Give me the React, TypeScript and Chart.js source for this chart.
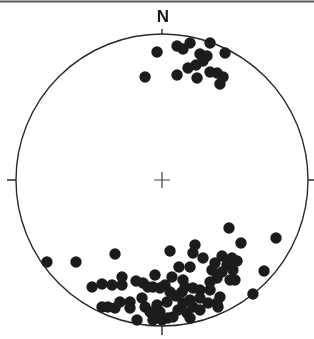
import React, { useEffect, useRef } from "react";
import { Chart, registerables } from "chart.js";

Chart.register(...registerables);

// Normalised stereonet coordinates (unit circle = primitive)
const northX = [-0.034, 0.103, 0.144, 0.192, 0.329, 0.432, 0.26, 0.308, 0.281, 0.233, 0.178, -0.116, 0.103, 0.24, 0.329, 0.377, 0.418, 0.397];
const northY = [0.877, 0.918, 0.897, 0.938, 0.938, 0.87, 0.863, 0.849, 0.815, 0.788, 0.767, 0.705, 0.719, 0.699, 0.74, 0.733, 0.705, 0.658];

const southX = [
  -0.788, -0.589, -0.322, 0.055, 0.226, 0.212, 0.281, 0.459, 0.541, 0.781, 0.699, 0.623,
  -0.479, -0.411, -0.342, -0.274, -0.274, -0.178, -0.13, -0.096, -0.048, -0.014, 0.021,
  -0.411, -0.37, -0.322, -0.288, -0.219, -0.219, -0.137, -0.116, -0.082, -0.034, -0.014,
  -0.171, -0.062, 0.0, 0.034, 0.041,
  0.116, 0.192, 0.068, 0.411, 0.479, 0.514, 0.363, 0.445, 0.342, 0.411, 0.486, 0.377,
  0.466, 0.329, 0.144, 0.158, 0.137, 0.212, 0.26, 0.329, 0.397, 0.26, 0.192, 0.144,
  0.212, 0.315, 0.377, 0.171, 0.11, 0.192, 0.075, -0.062, 0.5, 0.384, 0.26, 0.096, 0.055,
];
const southY = [
  -0.562, -0.562, -0.507, -0.486, -0.445, -0.5, -0.534, -0.329, -0.432, -0.397, -0.623, -0.781,
  -0.733, -0.712, -0.719, -0.664, -0.719, -0.692, -0.705, -0.733, -0.651, -0.74, -0.719,
  -0.87, -0.87, -0.877, -0.836, -0.836, -0.877, -0.808, -0.87, -0.904, -0.856, -0.904,
  -0.959, -0.959, -0.959, -0.836, -0.945,
  -0.596, -0.596, -0.664, -0.521, -0.534, -0.555, -0.568, -0.582, -0.616, -0.63, -0.616, -0.671,
  -0.685, -0.699, -0.685, -0.733, -0.767, -0.74, -0.753, -0.753, -0.801, -0.808, -0.822, -0.842,
  -0.87, -0.842, -0.842, -0.911, -0.89, -0.945, -0.938, -0.733, -0.685, -0.87, -0.89, -0.795, -0.767,
];

const northLabel = "N";

const toPoints = (xs: number[], ys: number[]) => xs.map((x, i) => ({ x, y: ys[i] }));

const netPlugin = {
  id: "stereonet",
  beforeDatasetsDraw(chart: any) {
    const { ctx, scales } = chart;
    const sx = scales.x;
    const sy = scales.y;
    const cx = sx.getPixelForValue(0);
    const cy = sy.getPixelForValue(0);
    const r = (sx.getPixelForValue(1) - sx.getPixelForValue(-1)) / 2;
    ctx.save();
    // top rule
    ctx.strokeStyle = "#5a5a5a";
    ctx.lineWidth = 2;
    ctx.beginPath();
    ctx.moveTo(0, 1.5);
    ctx.lineTo(chart.width, 1.5);
    ctx.stroke();
    // primitive
    ctx.strokeStyle = "#2a2a2a";
    ctx.lineWidth = 1.4;
    ctx.beginPath();
    ctx.arc(cx, cy, r, 0, Math.PI * 2);
    ctx.stroke();
    // ticks
    ctx.beginPath();
    ctx.moveTo(cx, cy - r);
    ctx.lineTo(cx, cy - r - 5);
    ctx.moveTo(cx, cy + r);
    ctx.lineTo(cx, cy + r + 9);
    ctx.moveTo(cx - r, cy);
    ctx.lineTo(cx - r - 9, cy);
    ctx.moveTo(cx + r, cy);
    ctx.lineTo(cx + r + 9, cy);
    ctx.stroke();
    // centre cross
    ctx.lineWidth = 1.2;
    ctx.strokeStyle = "#444";
    ctx.beginPath();
    ctx.moveTo(cx - 8, cy);
    ctx.lineTo(cx + 8, cy);
    ctx.moveTo(cx, cy - 8);
    ctx.lineTo(cx, cy + 8);
    ctx.stroke();
    // N label
    ctx.fillStyle = "#1a1a1a";
    ctx.font = "bold 17px 'Liberation Sans', Arial, sans-serif";
    ctx.textAlign = "center";
    ctx.textBaseline = "alphabetic";
    ctx.fillText(northLabel, cx + 1, cy - r - 12);
    ctx.restore();
  },
};

export default function App() {
  const ref = useRef<HTMLCanvasElement>(null);
  useEffect(() => {
    if (!ref.current) return;
    const chart = new Chart(ref.current, {
      type: "scatter",
      data: {
        datasets: [
          { data: toPoints(northX, northY), backgroundColor: "#1c1c1c", borderWidth: 0, pointRadius: 5.7 },
          { data: toPoints(southX, southY), backgroundColor: "#1c1c1c", borderWidth: 0, pointRadius: 5.7 },
        ],
      },
      options: {
        responsive: false,
        animation: false,
        layout: { padding: { left: 16, right: 6, top: 34, bottom: 13 } },
        plugins: { legend: { display: false }, tooltip: { enabled: false } },
        scales: {
          x: { type: "linear", min: -1, max: 1, display: false },
          y: { type: "linear", min: -1, max: 1, display: false },
        },
      },
      plugins: [netPlugin],
    });
    return () => chart.destroy();
  }, []);
  return (
    <div style={{ position: "fixed", left: 0, top: 0, width: 314, height: 339, background: "#fff" }}>
      <canvas ref={ref} width={314} height={339} />
    </div>
  );
}
